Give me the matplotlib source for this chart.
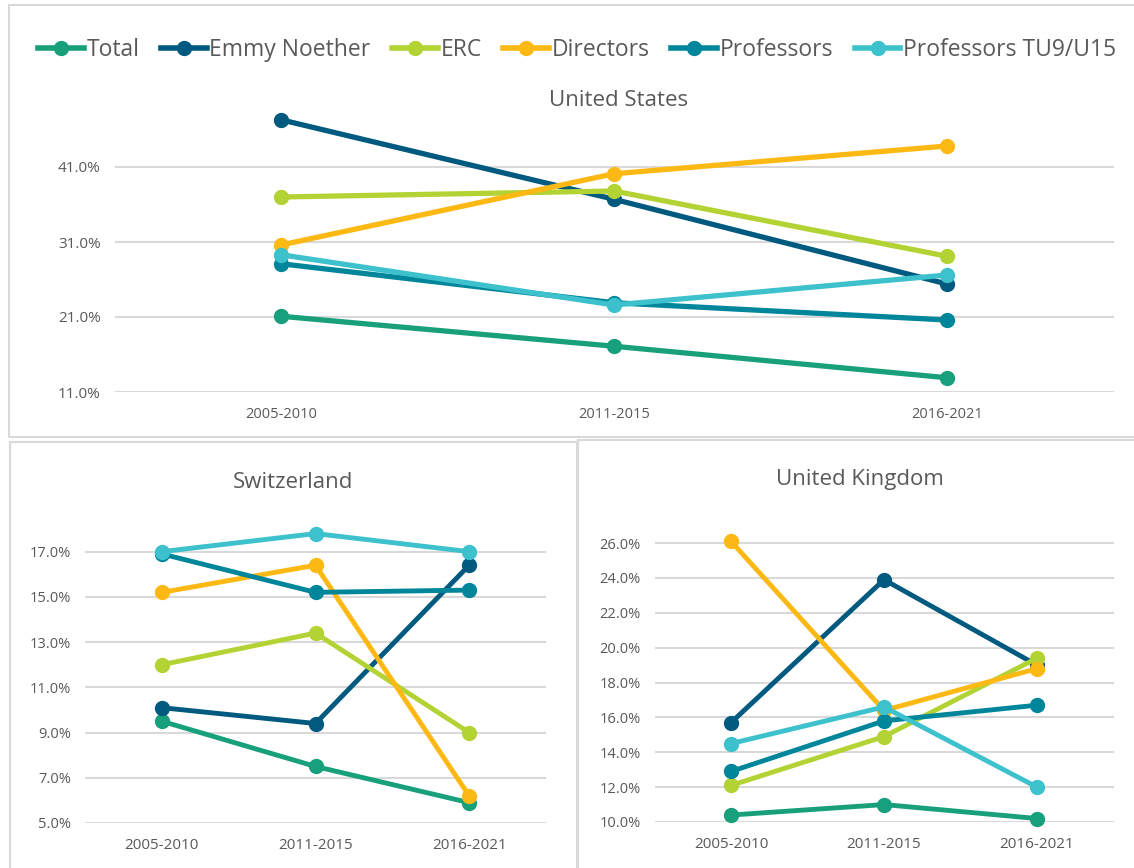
import numpy as np
import matplotlib
matplotlib.use('Agg')
import matplotlib.pyplot as plt
from matplotlib.patches import Rectangle

plt.rcParams['font.family'] = ['Open Sans', 'DejaVu Sans']

periods = ['2005-2010', '2011-2015', '2016-2021']
series = ['Total', 'Emmy Noether', 'ERC', 'Directors', 'Professors', 'Professors TU9/U15']
colors = ['#189f7c', '#005a80', '#b3d334', '#fdb913', '#00869b', '#3dc1cc']

# values in percent
us_total = [21.1, 17.1, 12.9]
us_emmy = [47.3, 36.7, 25.4]
us_erc = [37.0, 37.8, 29.1]
us_directors = [30.6, 40.1, 43.8]
us_professors = [28.1, 22.9, 20.6]
us_tu9 = [29.3, 22.6, 26.6]

ch_total = [9.5, 7.5, 5.9]
ch_emmy = [10.1, 9.4, 16.4]
ch_erc = [12.0, 13.4, 9.0]
ch_directors = [15.2, 16.4, 6.2]
ch_professors = [16.9, 15.2, 15.3]
ch_tu9 = [17.0, 17.8, 17.0]

uk_total = [10.4, 11.0, 10.2]
uk_emmy = [15.7, 23.9, 19.0]
uk_erc = [12.1, 14.9, 19.4]
uk_directors = [26.1, 16.4, 18.8]
uk_professors = [12.9, 15.8, 16.7]
uk_tu9 = [14.5, 16.6, 12.0]

us = [us_total, us_emmy, us_erc, us_directors, us_professors, us_tu9]
ch = [ch_total, ch_emmy, ch_erc, ch_directors, ch_professors, ch_tu9]
uk = [uk_total, uk_emmy, uk_erc, uk_directors, uk_professors, uk_tu9]

W, H = 1134, 868
fig = plt.figure(figsize=(W / 100, H / 100), dpi=100)
txt = '#595959'
grid = '#d9d9d9'

# panel frames (pixel coords -> figure fraction)
def frame(x0, y0, x1, y1):
    fig.patches.append(Rectangle((x0 / W, 1 - y1 / H), (x1 - x0) / W, (y1 - y0) / H,
                                 transform=fig.transFigure, fill=False,
                                 edgecolor=grid, linewidth=1.5))

frame(9, 5, 1140, 437)
frame(10, 442, 577, 875)
frame(578, 440, 1140, 875)

def panel(rect, data, ylim, yticks, title, title_xy, fs_x, fs_y, lw, ms):
    ax = fig.add_axes(rect)
    x = np.arange(len(periods))
    for vals, c in zip(data, colors):
        ax.plot(x, vals, color=c, linewidth=lw, marker='o', markersize=ms,
                solid_capstyle='round', clip_on=False)
    ax.set_xlim(-0.5, 2.5)
    ax.set_ylim(*ylim)
    ax.set_yticks(yticks)
    ax.set_yticklabels(['%.1f%%' % v for v in yticks])
    ax.set_xticks(x)
    ax.set_xticklabels(periods)
    ax.yaxis.grid(True, color=grid, linewidth=1.5)
    ax.set_axisbelow(True)
    for s in ax.spines.values():
        s.set_visible(False)
    ax.tick_params(length=0, colors=txt)
    ax.tick_params(axis='x', pad=11, labelsize=fs_x)
    ax.tick_params(axis='y', pad=10, labelsize=fs_y)
    fig.text(title_xy[0] / W, 1 - title_xy[1] / H, title, ha='center', va='center',
             fontsize=16, color=txt)
    return ax

panel([114.5 / W, 1 - 392 / H, 999 / W, 282 / H], us, (11, 48.6),
      [11, 21, 31, 41], 'United States', (619, 101), 10.5, 11, 3.8, 10)
panel([85 / W, 1 - 823 / H, 461 / W, 303 / H], ch, (5, 18.4),
      [5, 7, 9, 11, 13, 15, 17], 'Switzerland', (293, 482), 11, 10.5, 3.5, 10)
panel([654.5 / W, 1 - 822 / H, 459 / W, 292 / H], uk, (10, 26.75),
      [10, 12, 14, 16, 18, 20, 22, 24, 26], 'United Kingdom', (860, 479), 11, 10.5, 3.5, 10)

handles = [plt.Line2D([], [], color=c, linewidth=4, marker='o', markersize=10)
           for c in colors]
fig.legend(handles, series, loc='center', bbox_to_anchor=(577 / W, 1 - 50 / H),
           ncol=6, frameon=False, fontsize=16.5, handlelength=2.0,
           handletextpad=0.1, columnspacing=0.95, labelcolor=txt)

fig.savefig('out.png', dpi=100)
